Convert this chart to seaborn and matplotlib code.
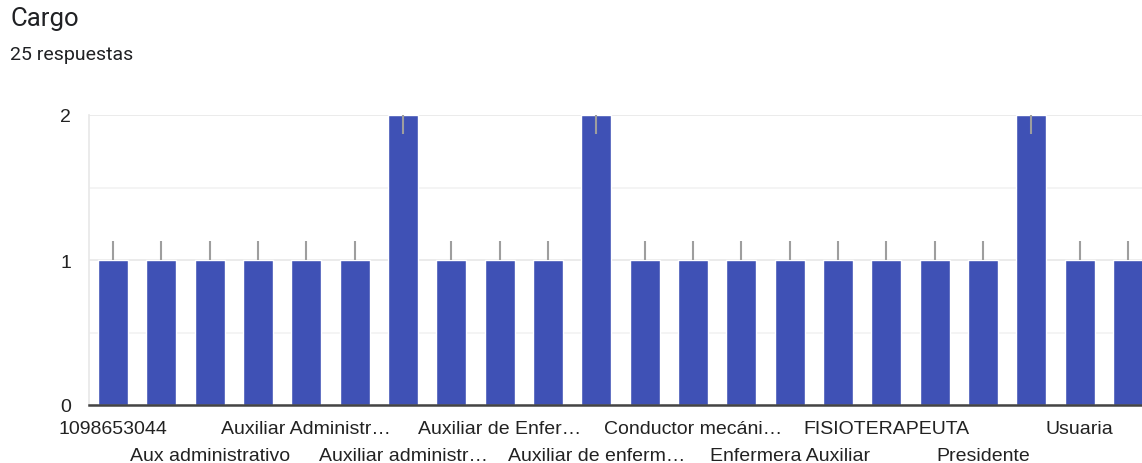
import numpy as np
import pandas as pd
import matplotlib
matplotlib.use("Agg")
import matplotlib.pyplot as plt
import seaborn as sns

# answers to "Cargo" (25 respuestas); only every other category label is shown
cargos = ["1098653044", "Administrativa", "Aux administrativo", "Auxiliar",
          "Auxiliar Administr…", "Auxiliar Administrativo", "Auxiliar administr…",
          "Auxiliar contable", "Auxiliar de Enfer…", "Auxiliar de Enfermería",
          "Auxiliar de enferm…", "Conductor", "Conductor mecáni…", "Enfermera",
          "Enfermera Auxiliar", "Enfermero", "FISIOTERAPEUTA", "Gerente",
          "Presidente", "Secretaria", "Usuaria", "Usuario"]
conteo = [1, 1, 1, 1, 1, 1, 2, 1, 1, 1, 2, 1, 1, 1, 1, 1, 1, 1, 1, 2, 1, 1]

df = pd.DataFrame({"cargo": cargos, "n": conteo})

sns.set_style("white")
plt.rcParams['font.family'] = ['Liberation Sans', 'DejaVu Sans']

fig = plt.figure(figsize=(11.42, 4.64), dpi=100)
ax = fig.add_axes([89/1142, 58/464, 1063/1142, 290/464])

sns.barplot(data=df, x="cargo", y="n", color="#3f51b5", width=0.62,
            saturation=1, ax=ax, zorder=3)

# the little grey marks sitting on each bar top
for p in ax.patches:
    cx = p.get_x() + p.get_width() / 2
    h = p.get_height()
    if h >= 2:
        ax.vlines(cx, h - 0.13, h, color="#9e9e9e", lw=1.5, zorder=4)
    else:
        ax.vlines(cx, h, h + 0.13, color="#9e9e9e", lw=1.5, zorder=4)

ax.set_xlim(-0.5, len(cargos) - 0.5)
ax.set_ylim(0, 2)
ax.set_yticks([0, 1, 2])
ax.set_yticks([0.5, 1.5], minor=True)
ax.grid(axis="y", which="major", color="#e8e8e8", lw=1.2, zorder=0)
ax.grid(axis="y", which="minor", color="#f2f2f2", lw=1.2, zorder=0)

# two staggered rows of labels
idx = np.arange(len(cargos))
ax.set_xticks(idx[0::4])
ax.set_xticklabels([cargos[i] for i in idx[0::4]])
ax.set_xticks(idx[2::4], minor=True)
ax.set_xticklabels([cargos[i] for i in idx[2::4]], minor=True)
ax.tick_params(axis="x", which="major", length=0, pad=11, labelsize=14, labelcolor="#222222")
ax.tick_params(axis="x", which="minor", length=0, pad=30, labelsize=14, labelcolor="#222222")
ax.tick_params(axis="y", which="both", length=0, pad=13, labelsize=14, labelcolor="#222222")
ax.set_xlabel("")
ax.set_ylabel("")

for s in ["top", "right"]:
    ax.spines[s].set_visible(False)
ax.spines["left"].set_color("#e8e8e8")
ax.spines["left"].set_linewidth(1.2)
ax.spines["bottom"].set_color("#444444")
ax.spines["bottom"].set_linewidth(1.8)
ax.spines["bottom"].set_zorder(5)

fig.text(10/1142, 1 - 19/464, "Cargo", fontsize=18.5, family="Roboto",
         color="#202124", va="center", ha="left")
fig.text(10/1142, 1 - 55/464, "25 respuestas", fontsize=14, family="Roboto",
         color="#202124", va="center", ha="left")

fig.savefig("out.png", dpi=100)
